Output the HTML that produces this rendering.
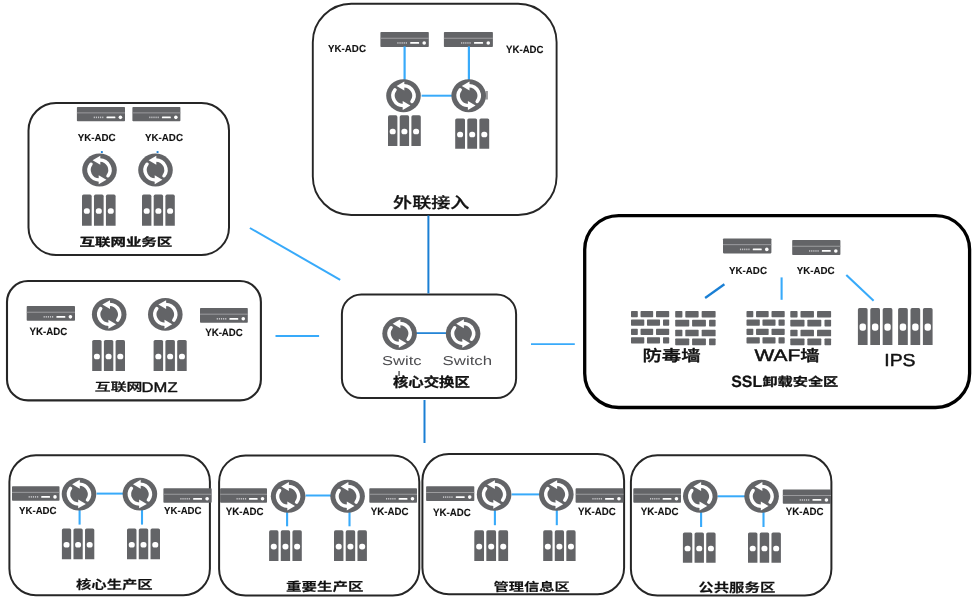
<!DOCTYPE html>
<html lang="zh-CN">
<head>
<meta charset="utf-8">
<title>网络拓扑</title>
<style>
html,body{margin:0;padding:0;background:#fff;}
body{width:973px;height:601px;overflow:hidden;}
svg{display:block;filter:blur(0.38px);}
svg text{font-family:"Liberation Sans","Noto Sans CJK SC",sans-serif;text-rendering:geometricPrecision;}
</style>
</head>
<body>
<svg width="973" height="601" viewBox="0 0 973 601">
<rect width="973" height="601" fill="#fff"/>
<rect x="312.8" y="3.7" width="243.8" height="211.3" rx="38.5" ry="38.5" fill="none" stroke="#262626" stroke-width="1.9"/>
<rect x="28.5" y="102.9" width="200.5" height="152.0" rx="27.5" ry="27.5" fill="none" stroke="#262626" stroke-width="2.0"/>
<rect x="7.0" y="281.0" width="253.9" height="119.4" rx="21" ry="21" fill="none" stroke="#262626" stroke-width="2.1"/>
<rect x="341.9" y="294.4" width="174.2" height="103.7" rx="19.5" ry="19.5" fill="none" stroke="#262626" stroke-width="2.0"/>
<rect x="9.4" y="455.2" width="200.5" height="140.1" rx="26.5" ry="26.5" fill="none" stroke="#262626" stroke-width="2.0"/>
<rect x="219.1" y="455.4" width="200.2" height="140.1" rx="26.5" ry="26.5" fill="none" stroke="#262626" stroke-width="2.0"/>
<rect x="422.4" y="454.0" width="201.7" height="140.3" rx="26.5" ry="26.5" fill="none" stroke="#262626" stroke-width="2.0"/>
<rect x="630.9" y="455.3" width="200.5" height="140.2" rx="26.5" ry="26.5" fill="none" stroke="#262626" stroke-width="2.0"/>
<rect x="584.7" y="215.6" width="384.9" height="191.9" rx="34" ry="34" fill="none" stroke="#000" stroke-width="3.3"/>
<line x1="428.4" y1="215.5" x2="428.4" y2="293.5" stroke="#1a7fd4" stroke-width="2.0"/>
<line x1="424.5" y1="400.0" x2="424.5" y2="443.0" stroke="#1a7fd4" stroke-width="2.0"/>
<line x1="249.9" y1="228.0" x2="340.2" y2="279.8" stroke="#38aafa" stroke-width="2.0"/>
<line x1="275.5" y1="336.0" x2="319.1" y2="336.0" stroke="#38aafa" stroke-width="1.9"/>
<line x1="531.0" y1="344.1" x2="574.8" y2="344.1" stroke="#38aafa" stroke-width="1.9"/>
<line x1="421.6" y1="95.7" x2="452.5" y2="95.7" stroke="#38aafa" stroke-width="2.0"/>
<rect x="380.4" y="32.0" width="48.4" height="15.0" rx="0.8" fill="#636467"/>
<rect x="380.4" y="37.77" width="48.4" height="0.90" fill="#a3a3a6"/>
<rect x="397.34" y="42.15" width="1.2" height="1.6" fill="#c4c4c7"/>
<rect x="399.44" y="42.15" width="1.2" height="1.6" fill="#c4c4c7"/>
<rect x="401.54" y="42.15" width="1.2" height="1.6" fill="#c4c4c7"/>
<rect x="403.64" y="42.15" width="1.2" height="1.6" fill="#c4c4c7"/>
<rect x="405.74" y="42.15" width="1.2" height="1.6" fill="#c4c4c7"/>
<rect x="410.17" y="42.10" width="8.95" height="1.7" rx="0.5" fill="#fff"/>
<circle cx="424.20" cy="42.95" r="1.8" fill="#fff"/>
<rect x="443.9" y="32.0" width="49.0" height="15.0" rx="0.8" fill="#636467"/>
<rect x="443.9" y="37.77" width="49.0" height="0.90" fill="#a3a3a6"/>
<rect x="461.05" y="42.15" width="1.2" height="1.6" fill="#c4c4c7"/>
<rect x="463.15" y="42.15" width="1.2" height="1.6" fill="#c4c4c7"/>
<rect x="465.25" y="42.15" width="1.2" height="1.6" fill="#c4c4c7"/>
<rect x="467.35" y="42.15" width="1.2" height="1.6" fill="#c4c4c7"/>
<rect x="469.45" y="42.15" width="1.2" height="1.6" fill="#c4c4c7"/>
<rect x="474.03" y="42.10" width="9.06" height="1.7" rx="0.5" fill="#fff"/>
<circle cx="488.25" cy="42.95" r="1.8" fill="#fff"/>
<line x1="404.6" y1="46.4" x2="404.6" y2="80.0" stroke="#38aafa" stroke-width="2.2"/>
<line x1="468.9" y1="46.4" x2="468.9" y2="80.0" stroke="#38aafa" stroke-width="2.2"/>
<rect x="485.5" y="91" width="2.4" height="8.5" fill="#9a9a9c"/>
<g transform="translate(403.5 95.7) scale(1.000 0.950)"><circle r="17.3" fill="#636467"/><path d="M0.37 -10.49 A10.5 10.5 0 0 1 8.49 6.17" fill="none" stroke="#fff" stroke-width="3.5" stroke-linecap="round"/><path d="M-6.9 -10.3 L0.8 -15 L0.8 -5.6 Z" fill="#fff"/><path d="M-0.37 10.49 A10.5 10.5 0 0 1 -8.49 -6.17" fill="none" stroke="#fff" stroke-width="3.5" stroke-linecap="round"/><path d="M6.9 10.3 L-0.8 15 L-0.8 5.6 Z" fill="#fff"/></g>
<g transform="translate(468.7 95.7) scale(1.000 0.950)"><circle r="17.3" fill="#636467"/><path d="M0.37 -10.49 A10.5 10.5 0 0 1 8.49 6.17" fill="none" stroke="#fff" stroke-width="3.5" stroke-linecap="round"/><path d="M-6.9 -10.3 L0.8 -15 L0.8 -5.6 Z" fill="#fff"/><path d="M-0.37 10.49 A10.5 10.5 0 0 1 -8.49 -6.17" fill="none" stroke="#fff" stroke-width="3.5" stroke-linecap="round"/><path d="M6.9 10.3 L-0.8 15 L-0.8 5.6 Z" fill="#fff"/></g>
<path d="M388.00 146.0 V116.90 Q388.00 115.3 389.60 115.3 H395.80 Q397.40 115.3 397.40 116.90 V146.0 Z" fill="#636467"/>
<rect x="389.70" y="128.75" width="6.0" height="5.6" rx="2.6" ry="2.6" fill="#fff"/>
<path d="M399.70 146.0 V116.90 Q399.70 115.3 401.30 115.3 H407.50 Q409.10 115.3 409.10 116.90 V146.0 Z" fill="#636467"/>
<rect x="401.40" y="128.75" width="6.0" height="5.6" rx="2.6" ry="2.6" fill="#fff"/>
<path d="M411.40 146.0 V116.90 Q411.40 115.3 413.00 115.3 H419.20 Q420.80 115.3 420.80 116.90 V146.0 Z" fill="#636467"/>
<rect x="413.10" y="128.75" width="6.0" height="5.6" rx="2.6" ry="2.6" fill="#fff"/>
<path d="M455.20 148.8 V120.00 Q455.20 118.4 456.80 118.4 H463.40 Q465.00 118.4 465.00 120.00 V148.8 Z" fill="#636467"/>
<rect x="457.10" y="131.70" width="6.0" height="5.6" rx="2.6" ry="2.6" fill="#fff"/>
<path d="M467.30 148.8 V120.00 Q467.30 118.4 468.90 118.4 H475.50 Q477.10 118.4 477.10 120.00 V148.8 Z" fill="#636467"/>
<rect x="469.20" y="131.70" width="6.0" height="5.6" rx="2.6" ry="2.6" fill="#fff"/>
<path d="M479.40 148.8 V120.00 Q479.40 118.4 481.00 118.4 H487.60 Q489.20 118.4 489.20 120.00 V148.8 Z" fill="#636467"/>
<rect x="481.30" y="131.70" width="6.0" height="5.6" rx="2.6" ry="2.6" fill="#fff"/>
<text transform="translate(328.06 52.00) scale(0.9538 1)" font-size="10.21" font-weight="bold" fill="#111" stroke="#111" stroke-width="0.1" stroke-linejoin="round">YK-ADC</text>
<text transform="translate(506.06 53.00) scale(0.9245 1)" font-size="10.42" font-weight="bold" fill="#111" stroke="#111" stroke-width="0.1" stroke-linejoin="round">YK-ADC</text>
<text transform="translate(393.08 208.00) scale(1.2521 1)" font-size="15.26" font-weight="500" fill="#111" stroke="#111" stroke-width="0.3" stroke-linejoin="round">外联接入</text>
<rect x="76.9" y="107.0" width="48.1" height="14.2" rx="0.8" fill="#636467"/>
<rect x="76.9" y="112.47" width="48.1" height="0.85" fill="#a3a3a6"/>
<rect x="93.73" y="116.57" width="1.2" height="1.6" fill="#c4c4c7"/>
<rect x="95.83" y="116.57" width="1.2" height="1.6" fill="#c4c4c7"/>
<rect x="97.94" y="116.57" width="1.2" height="1.6" fill="#c4c4c7"/>
<rect x="100.03" y="116.57" width="1.2" height="1.6" fill="#c4c4c7"/>
<rect x="102.14" y="116.57" width="1.2" height="1.6" fill="#c4c4c7"/>
<rect x="106.48" y="116.52" width="8.90" height="1.7" rx="0.5" fill="#fff"/>
<circle cx="120.43" cy="117.37" r="1.8" fill="#fff"/>
<rect x="132.4" y="107.0" width="48.0" height="14.2" rx="0.8" fill="#636467"/>
<rect x="132.4" y="112.47" width="48.0" height="0.85" fill="#a3a3a6"/>
<rect x="149.20" y="116.57" width="1.2" height="1.6" fill="#c4c4c7"/>
<rect x="151.30" y="116.57" width="1.2" height="1.6" fill="#c4c4c7"/>
<rect x="153.40" y="116.57" width="1.2" height="1.6" fill="#c4c4c7"/>
<rect x="155.50" y="116.57" width="1.2" height="1.6" fill="#c4c4c7"/>
<rect x="157.60" y="116.57" width="1.2" height="1.6" fill="#c4c4c7"/>
<rect x="161.92" y="116.52" width="8.88" height="1.7" rx="0.5" fill="#fff"/>
<circle cx="175.84" cy="117.37" r="1.8" fill="#fff"/>
<text transform="translate(77.66 141.00) scale(0.9538 1)" font-size="10.21" font-weight="bold" fill="#111" stroke="#111" stroke-width="0.1" stroke-linejoin="round">YK-ADC</text>
<text transform="translate(145.06 141.00) scale(0.9538 1)" font-size="10.21" font-weight="bold" fill="#111" stroke="#111" stroke-width="0.1" stroke-linejoin="round">YK-ADC</text>
<rect x="100.9" y="151.1" width="1.9" height="1.9" fill="#1a7fd4"/>
<rect x="156.6" y="151.1" width="1.9" height="1.9" fill="#1a7fd4"/>
<g transform="translate(99.5 170.0) scale(1.000 0.950)"><circle r="17.3" fill="#636467"/><path d="M0.37 -10.49 A10.5 10.5 0 0 1 8.49 6.17" fill="none" stroke="#fff" stroke-width="3.5" stroke-linecap="round"/><path d="M-6.9 -10.3 L0.8 -15 L0.8 -5.6 Z" fill="#fff"/><path d="M-0.37 10.49 A10.5 10.5 0 0 1 -8.49 -6.17" fill="none" stroke="#fff" stroke-width="3.5" stroke-linecap="round"/><path d="M6.9 10.3 L-0.8 15 L-0.8 5.6 Z" fill="#fff"/></g>
<g transform="translate(155.5 170.0) scale(1.000 0.950)"><circle r="17.3" fill="#636467"/><path d="M0.37 -10.49 A10.5 10.5 0 0 1 8.49 6.17" fill="none" stroke="#fff" stroke-width="3.5" stroke-linecap="round"/><path d="M-6.9 -10.3 L0.8 -15 L0.8 -5.6 Z" fill="#fff"/><path d="M-0.37 10.49 A10.5 10.5 0 0 1 -8.49 -6.17" fill="none" stroke="#fff" stroke-width="3.5" stroke-linecap="round"/><path d="M6.9 10.3 L-0.8 15 L-0.8 5.6 Z" fill="#fff"/></g>
<path d="M82.00 225.7 V196.20 Q82.00 194.6 83.60 194.6 H90.07 Q91.67 194.6 91.67 196.20 V225.7 Z" fill="#636467"/>
<rect x="83.83" y="208.25" width="6.0" height="5.6" rx="2.6" ry="2.6" fill="#fff"/>
<path d="M93.97 225.7 V196.20 Q93.97 194.6 95.57 194.6 H102.03 Q103.63 194.6 103.63 196.20 V225.7 Z" fill="#636467"/>
<rect x="95.80" y="208.25" width="6.0" height="5.6" rx="2.6" ry="2.6" fill="#fff"/>
<path d="M105.93 225.7 V196.20 Q105.93 194.6 107.53 194.6 H114.00 Q115.60 194.6 115.60 196.20 V225.7 Z" fill="#636467"/>
<rect x="107.77" y="208.25" width="6.0" height="5.6" rx="2.6" ry="2.6" fill="#fff"/>
<path d="M142.00 225.7 V196.20 Q142.00 194.6 143.60 194.6 H149.80 Q151.40 194.6 151.40 196.20 V225.7 Z" fill="#636467"/>
<rect x="143.70" y="208.25" width="6.0" height="5.6" rx="2.6" ry="2.6" fill="#fff"/>
<path d="M153.70 225.7 V196.20 Q153.70 194.6 155.30 194.6 H161.50 Q163.10 194.6 163.10 196.20 V225.7 Z" fill="#636467"/>
<rect x="155.40" y="208.25" width="6.0" height="5.6" rx="2.6" ry="2.6" fill="#fff"/>
<path d="M165.40 225.7 V196.20 Q165.40 194.6 167.00 194.6 H173.20 Q174.80 194.6 174.80 196.20 V225.7 Z" fill="#636467"/>
<rect x="167.10" y="208.25" width="6.0" height="5.6" rx="2.6" ry="2.6" fill="#fff"/>
<text transform="translate(79.58 246.00) scale(1.3589 1)" font-size="11.37" font-weight="bold" fill="#111" stroke="#111" stroke-width="0.3" stroke-linejoin="round">互联网业务区</text>
<rect x="26.7" y="306.1" width="48.3" height="14.7" rx="0.8" fill="#636467"/>
<rect x="26.7" y="311.76" width="48.3" height="0.88" fill="#a3a3a6"/>
<rect x="43.60" y="316.03" width="1.2" height="1.6" fill="#c4c4c7"/>
<rect x="45.70" y="316.03" width="1.2" height="1.6" fill="#c4c4c7"/>
<rect x="47.80" y="316.03" width="1.2" height="1.6" fill="#c4c4c7"/>
<rect x="49.91" y="316.03" width="1.2" height="1.6" fill="#c4c4c7"/>
<rect x="52.00" y="316.03" width="1.2" height="1.6" fill="#c4c4c7"/>
<rect x="56.40" y="315.98" width="8.94" height="1.7" rx="0.5" fill="#fff"/>
<circle cx="70.41" cy="316.83" r="1.8" fill="#fff"/>
<rect x="200.0" y="308.0" width="47.8" height="14.8" rx="0.8" fill="#636467"/>
<rect x="200.0" y="313.70" width="47.8" height="0.89" fill="#a3a3a6"/>
<rect x="216.73" y="318.00" width="1.2" height="1.6" fill="#c4c4c7"/>
<rect x="218.83" y="318.00" width="1.2" height="1.6" fill="#c4c4c7"/>
<rect x="220.93" y="318.00" width="1.2" height="1.6" fill="#c4c4c7"/>
<rect x="223.03" y="318.00" width="1.2" height="1.6" fill="#c4c4c7"/>
<rect x="225.13" y="318.00" width="1.2" height="1.6" fill="#c4c4c7"/>
<rect x="229.40" y="317.95" width="8.84" height="1.7" rx="0.5" fill="#fff"/>
<circle cx="243.26" cy="318.80" r="1.8" fill="#fff"/>
<text transform="translate(29.46 335.00) scale(0.9320 1)" font-size="10.42" font-weight="bold" fill="#111" stroke="#111" stroke-width="0.1" stroke-linejoin="round">YK-ADC</text>
<text transform="translate(205.16 336.00) scale(0.9320 1)" font-size="10.42" font-weight="bold" fill="#111" stroke="#111" stroke-width="0.1" stroke-linejoin="round">YK-ADC</text>
<g transform="translate(109.2 314.4) scale(1.000 0.950)"><circle r="17.3" fill="#636467"/><path d="M0.37 -10.49 A10.5 10.5 0 0 1 8.49 6.17" fill="none" stroke="#fff" stroke-width="3.5" stroke-linecap="round"/><path d="M-6.9 -10.3 L0.8 -15 L0.8 -5.6 Z" fill="#fff"/><path d="M-0.37 10.49 A10.5 10.5 0 0 1 -8.49 -6.17" fill="none" stroke="#fff" stroke-width="3.5" stroke-linecap="round"/><path d="M6.9 10.3 L-0.8 15 L-0.8 5.6 Z" fill="#fff"/></g>
<g transform="translate(165.3 314.4) scale(1.000 0.950)"><circle r="17.3" fill="#636467"/><path d="M0.37 -10.49 A10.5 10.5 0 0 1 8.49 6.17" fill="none" stroke="#fff" stroke-width="3.5" stroke-linecap="round"/><path d="M-6.9 -10.3 L0.8 -15 L0.8 -5.6 Z" fill="#fff"/><path d="M-0.37 10.49 A10.5 10.5 0 0 1 -8.49 -6.17" fill="none" stroke="#fff" stroke-width="3.5" stroke-linecap="round"/><path d="M6.9 10.3 L-0.8 15 L-0.8 5.6 Z" fill="#fff"/></g>
<path d="M92.20 371.1 V341.60 Q92.20 340.0 93.80 340.0 H100.00 Q101.60 340.0 101.60 341.60 V371.1 Z" fill="#636467"/>
<rect x="93.90" y="353.65" width="6.0" height="5.6" rx="2.6" ry="2.6" fill="#fff"/>
<path d="M103.90 371.1 V341.60 Q103.90 340.0 105.50 340.0 H111.70 Q113.30 340.0 113.30 341.60 V371.1 Z" fill="#636467"/>
<rect x="105.60" y="353.65" width="6.0" height="5.6" rx="2.6" ry="2.6" fill="#fff"/>
<path d="M115.60 371.1 V341.60 Q115.60 340.0 117.20 340.0 H123.40 Q125.00 340.0 125.00 341.60 V371.1 Z" fill="#636467"/>
<rect x="117.30" y="353.65" width="6.0" height="5.6" rx="2.6" ry="2.6" fill="#fff"/>
<path d="M153.60 371.1 V341.60 Q153.60 340.0 155.20 340.0 H161.50 Q163.10 340.0 163.10 341.60 V371.1 Z" fill="#636467"/>
<rect x="155.35" y="353.65" width="6.0" height="5.6" rx="2.6" ry="2.6" fill="#fff"/>
<path d="M165.40 371.1 V341.60 Q165.40 340.0 167.00 340.0 H173.30 Q174.90 340.0 174.90 341.60 V371.1 Z" fill="#636467"/>
<rect x="167.15" y="353.65" width="6.0" height="5.6" rx="2.6" ry="2.6" fill="#fff"/>
<path d="M177.20 371.1 V341.60 Q177.20 340.0 178.80 340.0 H185.10 Q186.70 340.0 186.70 341.60 V371.1 Z" fill="#636467"/>
<rect x="178.95" y="353.65" width="6.0" height="5.6" rx="2.6" ry="2.6" fill="#fff"/>
<g><text transform="translate(94.86 391.00) scale(1.3779 1)" font-size="11.51" font-weight="500" fill="#111" stroke="#111" stroke-width="0.3" stroke-linejoin="round">互联网</text><text transform="translate(141.62 392.00) scale(1.1798 1)" font-size="14.06" font-weight="400" fill="#111" stroke="#111" stroke-width="0.4" stroke-linejoin="round">DMZ</text></g>
<line x1="416.0" y1="333.1" x2="447.0" y2="333.1" stroke="#1a7fd4" stroke-width="1.7"/>
<g transform="translate(399.6 333.5) scale(1.000 0.950)"><circle r="17.3" fill="#636467"/><path d="M0.37 -10.49 A10.5 10.5 0 0 1 8.49 6.17" fill="none" stroke="#fff" stroke-width="3.5" stroke-linecap="round"/><path d="M-6.9 -10.3 L0.8 -15 L0.8 -5.6 Z" fill="#fff"/><path d="M-0.37 10.49 A10.5 10.5 0 0 1 -8.49 -6.17" fill="none" stroke="#fff" stroke-width="3.5" stroke-linecap="round"/><path d="M6.9 10.3 L-0.8 15 L-0.8 5.6 Z" fill="#fff"/></g>
<g transform="translate(463.1 333.5) scale(1.000 0.950)"><circle r="17.3" fill="#636467"/><path d="M0.37 -10.49 A10.5 10.5 0 0 1 8.49 6.17" fill="none" stroke="#fff" stroke-width="3.5" stroke-linecap="round"/><path d="M-6.9 -10.3 L0.8 -15 L0.8 -5.6 Z" fill="#fff"/><path d="M-0.37 10.49 A10.5 10.5 0 0 1 -8.49 -6.17" fill="none" stroke="#fff" stroke-width="3.5" stroke-linecap="round"/><path d="M6.9 10.3 L-0.8 15 L-0.8 5.6 Z" fill="#fff"/></g>
<text transform="translate(382.02 365.00) scale(1.2881 1)" font-size="12.84" font-weight="400" fill="#4d4d50">Switc</text>
<text transform="translate(442.61 365.00) scale(1.3074 1)" font-size="12.84" font-weight="400" fill="#4d4d50">Switch</text>
<text transform="translate(392.94 387.00) scale(1.1330 1)" font-size="13.58" font-weight="bold" fill="#111" stroke="#111" stroke-width="0.3" stroke-linejoin="round">核心交换区</text>
<rect x="398.5" y="371" width="1.1" height="5" fill="#222"/>
<line x1="96.6" y1="493.6" x2="124.5" y2="493.6" stroke="#38aafa" stroke-width="2.0"/>
<line x1="79.6" y1="509.0" x2="79.6" y2="524.6" stroke="#38aafa" stroke-width="2.1"/>
<line x1="142.0" y1="509.0" x2="142.0" y2="524.6" stroke="#38aafa" stroke-width="2.1"/>
<rect x="12.0" y="486.3" width="47.5" height="14.5" rx="0.8" fill="#636467"/>
<rect x="12.0" y="491.88" width="47.5" height="0.87" fill="#a3a3a6"/>
<rect x="28.62" y="496.08" width="1.2" height="1.6" fill="#c4c4c7"/>
<rect x="30.73" y="496.08" width="1.2" height="1.6" fill="#c4c4c7"/>
<rect x="32.83" y="496.08" width="1.2" height="1.6" fill="#c4c4c7"/>
<rect x="34.92" y="496.08" width="1.2" height="1.6" fill="#c4c4c7"/>
<rect x="37.02" y="496.08" width="1.2" height="1.6" fill="#c4c4c7"/>
<rect x="41.21" y="496.03" width="8.79" height="1.7" rx="0.5" fill="#fff"/>
<circle cx="54.99" cy="496.88" r="1.8" fill="#fff"/>
<rect x="163.4" y="488.2" width="48.3" height="14.5" rx="0.8" fill="#636467"/>
<rect x="163.4" y="493.78" width="48.3" height="0.87" fill="#a3a3a6"/>
<rect x="180.31" y="497.98" width="1.2" height="1.6" fill="#c4c4c7"/>
<rect x="182.41" y="497.98" width="1.2" height="1.6" fill="#c4c4c7"/>
<rect x="184.50" y="497.98" width="1.2" height="1.6" fill="#c4c4c7"/>
<rect x="186.61" y="497.98" width="1.2" height="1.6" fill="#c4c4c7"/>
<rect x="188.71" y="497.98" width="1.2" height="1.6" fill="#c4c4c7"/>
<rect x="193.10" y="497.93" width="8.94" height="1.7" rx="0.5" fill="#fff"/>
<circle cx="207.11" cy="498.78" r="1.8" fill="#fff"/>
<g transform="translate(79.0 494.1) scale(1.000 0.950)"><circle r="17.3" fill="#636467"/><path d="M0.37 -10.49 A10.5 10.5 0 0 1 8.49 6.17" fill="none" stroke="#fff" stroke-width="3.5" stroke-linecap="round"/><path d="M-6.9 -10.3 L0.8 -15 L0.8 -5.6 Z" fill="#fff"/><path d="M-0.37 10.49 A10.5 10.5 0 0 1 -8.49 -6.17" fill="none" stroke="#fff" stroke-width="3.5" stroke-linecap="round"/><path d="M6.9 10.3 L-0.8 15 L-0.8 5.6 Z" fill="#fff"/></g>
<g transform="translate(139.9 494.1) scale(1.000 0.950)"><circle r="17.3" fill="#636467"/><path d="M0.37 -10.49 A10.5 10.5 0 0 1 8.49 6.17" fill="none" stroke="#fff" stroke-width="3.5" stroke-linecap="round"/><path d="M-6.9 -10.3 L0.8 -15 L0.8 -5.6 Z" fill="#fff"/><path d="M-0.37 10.49 A10.5 10.5 0 0 1 -8.49 -6.17" fill="none" stroke="#fff" stroke-width="3.5" stroke-linecap="round"/><path d="M6.9 10.3 L-0.8 15 L-0.8 5.6 Z" fill="#fff"/></g>
<path d="M61.90 559.2 V530.00 Q61.90 528.4 63.50 528.4 H69.57 Q71.17 528.4 71.17 530.00 V559.2 Z" fill="#636467"/>
<rect x="63.53" y="541.90" width="6.0" height="5.6" rx="2.6" ry="2.6" fill="#fff"/>
<path d="M73.47 559.2 V530.00 Q73.47 528.4 75.07 528.4 H81.13 Q82.73 528.4 82.73 530.00 V559.2 Z" fill="#636467"/>
<rect x="75.10" y="541.90" width="6.0" height="5.6" rx="2.6" ry="2.6" fill="#fff"/>
<path d="M85.03 559.2 V530.00 Q85.03 528.4 86.63 528.4 H92.70 Q94.30 528.4 94.30 530.00 V559.2 Z" fill="#636467"/>
<rect x="86.67" y="541.90" width="6.0" height="5.6" rx="2.6" ry="2.6" fill="#fff"/>
<path d="M127.00 559.2 V530.00 Q127.00 528.4 128.60 528.4 H134.87 Q136.47 528.4 136.47 530.00 V559.2 Z" fill="#636467"/>
<rect x="128.73" y="541.90" width="6.0" height="5.6" rx="2.6" ry="2.6" fill="#fff"/>
<path d="M138.77 559.2 V530.00 Q138.77 528.4 140.37 528.4 H146.63 Q148.23 528.4 148.23 530.00 V559.2 Z" fill="#636467"/>
<rect x="140.50" y="541.90" width="6.0" height="5.6" rx="2.6" ry="2.6" fill="#fff"/>
<path d="M150.53 559.2 V530.00 Q150.53 528.4 152.13 528.4 H158.40 Q160.00 528.4 160.00 530.00 V559.2 Z" fill="#636467"/>
<rect x="152.27" y="541.90" width="6.0" height="5.6" rx="2.6" ry="2.6" fill="#fff"/>
<text transform="translate(19.06 514.00) scale(0.9436 1)" font-size="10.21" font-weight="bold" fill="#111" stroke="#111" stroke-width="0.1" stroke-linejoin="round">YK-ADC</text>
<text transform="translate(164.06 514.00) scale(0.9436 1)" font-size="10.21" font-weight="bold" fill="#111" stroke="#111" stroke-width="0.1" stroke-linejoin="round">YK-ADC</text>
<text transform="translate(75.94 589.00) scale(1.2395 1)" font-size="12.40" font-weight="bold" fill="#111" stroke="#111" stroke-width="0.12" stroke-linejoin="round">核心生产区</text>
<line x1="305.6" y1="495.5" x2="332.0" y2="495.5" stroke="#38aafa" stroke-width="2.0"/>
<line x1="287.1" y1="511.0" x2="287.1" y2="526.3" stroke="#38aafa" stroke-width="2.1"/>
<line x1="349.5" y1="511.0" x2="349.5" y2="526.3" stroke="#38aafa" stroke-width="2.1"/>
<rect x="220.1" y="488.2" width="46.9" height="14.5" rx="0.8" fill="#636467"/>
<rect x="220.1" y="493.78" width="46.9" height="0.87" fill="#a3a3a6"/>
<rect x="236.51" y="497.98" width="1.2" height="1.6" fill="#c4c4c7"/>
<rect x="238.61" y="497.98" width="1.2" height="1.6" fill="#c4c4c7"/>
<rect x="240.71" y="497.98" width="1.2" height="1.6" fill="#c4c4c7"/>
<rect x="242.81" y="497.98" width="1.2" height="1.6" fill="#c4c4c7"/>
<rect x="244.91" y="497.98" width="1.2" height="1.6" fill="#c4c4c7"/>
<rect x="248.94" y="497.93" width="8.68" height="1.7" rx="0.5" fill="#fff"/>
<circle cx="262.54" cy="498.78" r="1.8" fill="#fff"/>
<rect x="369.3" y="488.2" width="47.7" height="14.5" rx="0.8" fill="#636467"/>
<rect x="369.3" y="493.78" width="47.7" height="0.87" fill="#a3a3a6"/>
<rect x="386.00" y="497.98" width="1.2" height="1.6" fill="#c4c4c7"/>
<rect x="388.10" y="497.98" width="1.2" height="1.6" fill="#c4c4c7"/>
<rect x="390.19" y="497.98" width="1.2" height="1.6" fill="#c4c4c7"/>
<rect x="392.30" y="497.98" width="1.2" height="1.6" fill="#c4c4c7"/>
<rect x="394.39" y="497.98" width="1.2" height="1.6" fill="#c4c4c7"/>
<rect x="398.64" y="497.93" width="8.82" height="1.7" rx="0.5" fill="#fff"/>
<circle cx="412.47" cy="498.78" r="1.8" fill="#fff"/>
<g transform="translate(288.1 496.3) scale(1.000 0.950)"><circle r="17.3" fill="#636467"/><path d="M0.37 -10.49 A10.5 10.5 0 0 1 8.49 6.17" fill="none" stroke="#fff" stroke-width="3.5" stroke-linecap="round"/><path d="M-6.9 -10.3 L0.8 -15 L0.8 -5.6 Z" fill="#fff"/><path d="M-0.37 10.49 A10.5 10.5 0 0 1 -8.49 -6.17" fill="none" stroke="#fff" stroke-width="3.5" stroke-linecap="round"/><path d="M6.9 10.3 L-0.8 15 L-0.8 5.6 Z" fill="#fff"/></g>
<g transform="translate(347.6 496.3) scale(1.000 0.950)"><circle r="17.3" fill="#636467"/><path d="M0.37 -10.49 A10.5 10.5 0 0 1 8.49 6.17" fill="none" stroke="#fff" stroke-width="3.5" stroke-linecap="round"/><path d="M-6.9 -10.3 L0.8 -15 L0.8 -5.6 Z" fill="#fff"/><path d="M-0.37 10.49 A10.5 10.5 0 0 1 -8.49 -6.17" fill="none" stroke="#fff" stroke-width="3.5" stroke-linecap="round"/><path d="M6.9 10.3 L-0.8 15 L-0.8 5.6 Z" fill="#fff"/></g>
<path d="M269.10 561.1 V531.90 Q269.10 530.3 270.70 530.3 H276.87 Q278.47 530.3 278.47 531.90 V561.1 Z" fill="#636467"/>
<rect x="270.78" y="543.80" width="6.0" height="5.6" rx="2.6" ry="2.6" fill="#fff"/>
<path d="M280.77 561.1 V531.90 Q280.77 530.3 282.37 530.3 H288.53 Q290.13 530.3 290.13 531.90 V561.1 Z" fill="#636467"/>
<rect x="282.45" y="543.80" width="6.0" height="5.6" rx="2.6" ry="2.6" fill="#fff"/>
<path d="M292.43 561.1 V531.90 Q292.43 530.3 294.03 530.3 H300.20 Q301.80 530.3 301.80 531.90 V561.1 Z" fill="#636467"/>
<rect x="294.12" y="543.80" width="6.0" height="5.6" rx="2.6" ry="2.6" fill="#fff"/>
<path d="M334.00 561.1 V531.90 Q334.00 530.3 335.60 530.3 H341.83 Q343.43 530.3 343.43 531.90 V561.1 Z" fill="#636467"/>
<rect x="335.72" y="543.80" width="6.0" height="5.6" rx="2.6" ry="2.6" fill="#fff"/>
<path d="M345.73 561.1 V531.90 Q345.73 530.3 347.33 530.3 H353.57 Q355.17 530.3 355.17 531.90 V561.1 Z" fill="#636467"/>
<rect x="347.45" y="543.80" width="6.0" height="5.6" rx="2.6" ry="2.6" fill="#fff"/>
<path d="M357.47 561.1 V531.90 Q357.47 530.3 359.07 530.3 H365.30 Q366.90 530.3 366.90 531.90 V561.1 Z" fill="#636467"/>
<rect x="359.18" y="543.80" width="6.0" height="5.6" rx="2.6" ry="2.6" fill="#fff"/>
<text transform="translate(225.66 515.00) scale(0.9345 1)" font-size="10.42" font-weight="bold" fill="#111" stroke="#111" stroke-width="0.1" stroke-linejoin="round">YK-ADC</text>
<text transform="translate(370.66 515.00) scale(0.9345 1)" font-size="10.42" font-weight="bold" fill="#111" stroke="#111" stroke-width="0.1" stroke-linejoin="round">YK-ADC</text>
<text transform="translate(286.08 591.00) scale(1.2593 1)" font-size="12.29" font-weight="bold" fill="#111" stroke="#111" stroke-width="0.12" stroke-linejoin="round">重要生产区</text>
<line x1="511.6" y1="494.4" x2="540.0" y2="494.4" stroke="#38aafa" stroke-width="2.0"/>
<line x1="494.9" y1="509.0" x2="494.9" y2="525.2" stroke="#38aafa" stroke-width="2.1"/>
<line x1="556.8" y1="509.0" x2="556.8" y2="525.2" stroke="#38aafa" stroke-width="2.1"/>
<rect x="426.1" y="486.3" width="48.2" height="14.8" rx="0.8" fill="#636467"/>
<rect x="426.1" y="492.00" width="48.2" height="0.89" fill="#a3a3a6"/>
<rect x="442.97" y="496.30" width="1.2" height="1.6" fill="#c4c4c7"/>
<rect x="445.07" y="496.30" width="1.2" height="1.6" fill="#c4c4c7"/>
<rect x="447.17" y="496.30" width="1.2" height="1.6" fill="#c4c4c7"/>
<rect x="449.27" y="496.30" width="1.2" height="1.6" fill="#c4c4c7"/>
<rect x="451.37" y="496.30" width="1.2" height="1.6" fill="#c4c4c7"/>
<rect x="455.74" y="496.25" width="8.92" height="1.7" rx="0.5" fill="#fff"/>
<circle cx="469.72" cy="497.10" r="1.8" fill="#fff"/>
<rect x="575.6" y="488.2" width="47.9" height="14.5" rx="0.8" fill="#636467"/>
<rect x="575.6" y="493.78" width="47.9" height="0.87" fill="#a3a3a6"/>
<rect x="592.37" y="497.98" width="1.2" height="1.6" fill="#c4c4c7"/>
<rect x="594.47" y="497.98" width="1.2" height="1.6" fill="#c4c4c7"/>
<rect x="596.57" y="497.98" width="1.2" height="1.6" fill="#c4c4c7"/>
<rect x="598.66" y="497.98" width="1.2" height="1.6" fill="#c4c4c7"/>
<rect x="600.76" y="497.98" width="1.2" height="1.6" fill="#c4c4c7"/>
<rect x="605.06" y="497.93" width="8.86" height="1.7" rx="0.5" fill="#fff"/>
<circle cx="618.95" cy="498.78" r="1.8" fill="#fff"/>
<g transform="translate(494.1 494.4) scale(1.000 0.950)"><circle r="17.3" fill="#636467"/><path d="M0.37 -10.49 A10.5 10.5 0 0 1 8.49 6.17" fill="none" stroke="#fff" stroke-width="3.5" stroke-linecap="round"/><path d="M-6.9 -10.3 L0.8 -15 L0.8 -5.6 Z" fill="#fff"/><path d="M-0.37 10.49 A10.5 10.5 0 0 1 -8.49 -6.17" fill="none" stroke="#fff" stroke-width="3.5" stroke-linecap="round"/><path d="M6.9 10.3 L-0.8 15 L-0.8 5.6 Z" fill="#fff"/></g>
<g transform="translate(556.3 494.4) scale(1.000 0.950)"><circle r="17.3" fill="#636467"/><path d="M0.37 -10.49 A10.5 10.5 0 0 1 8.49 6.17" fill="none" stroke="#fff" stroke-width="3.5" stroke-linecap="round"/><path d="M-6.9 -10.3 L0.8 -15 L0.8 -5.6 Z" fill="#fff"/><path d="M-0.37 10.49 A10.5 10.5 0 0 1 -8.49 -6.17" fill="none" stroke="#fff" stroke-width="3.5" stroke-linecap="round"/><path d="M6.9 10.3 L-0.8 15 L-0.8 5.6 Z" fill="#fff"/></g>
<path d="M474.30 561.1 V531.90 Q474.30 530.3 475.90 530.3 H482.43 Q484.03 530.3 484.03 531.90 V561.1 Z" fill="#636467"/>
<rect x="476.17" y="543.80" width="6.0" height="5.6" rx="2.6" ry="2.6" fill="#fff"/>
<path d="M486.33 561.1 V531.90 Q486.33 530.3 487.93 530.3 H494.47 Q496.07 530.3 496.07 531.90 V561.1 Z" fill="#636467"/>
<rect x="488.20" y="543.80" width="6.0" height="5.6" rx="2.6" ry="2.6" fill="#fff"/>
<path d="M498.37 561.1 V531.90 Q498.37 530.3 499.97 530.3 H506.50 Q508.10 530.3 508.10 531.90 V561.1 Z" fill="#636467"/>
<rect x="500.23" y="543.80" width="6.0" height="5.6" rx="2.6" ry="2.6" fill="#fff"/>
<path d="M543.20 561.1 V531.90 Q543.20 530.3 544.80 530.3 H550.87 Q552.47 530.3 552.47 531.90 V561.1 Z" fill="#636467"/>
<rect x="544.83" y="543.80" width="6.0" height="5.6" rx="2.6" ry="2.6" fill="#fff"/>
<path d="M554.77 561.1 V531.90 Q554.77 530.3 556.37 530.3 H562.43 Q564.03 530.3 564.03 531.90 V561.1 Z" fill="#636467"/>
<rect x="556.40" y="543.80" width="6.0" height="5.6" rx="2.6" ry="2.6" fill="#fff"/>
<path d="M566.33 561.1 V531.90 Q566.33 530.3 567.93 530.3 H574.00 Q575.60 530.3 575.60 531.90 V561.1 Z" fill="#636467"/>
<rect x="567.97" y="543.80" width="6.0" height="5.6" rx="2.6" ry="2.6" fill="#fff"/>
<text transform="translate(433.06 516.00) scale(0.9345 1)" font-size="10.42" font-weight="bold" fill="#111" stroke="#111" stroke-width="0.1" stroke-linejoin="round">YK-ADC</text>
<text transform="translate(578.06 515.00) scale(0.9345 1)" font-size="10.42" font-weight="bold" fill="#111" stroke="#111" stroke-width="0.1" stroke-linejoin="round">YK-ADC</text>
<text transform="translate(493.39 591.00) scale(1.2862 1)" font-size="11.87" font-weight="bold" fill="#111" stroke="#111" stroke-width="0.12" stroke-linejoin="round">管理信息区</text>
<line x1="717.6" y1="496.3" x2="746.0" y2="496.3" stroke="#38aafa" stroke-width="2.0"/>
<line x1="701.1" y1="511.0" x2="701.1" y2="527.0" stroke="#38aafa" stroke-width="2.1"/>
<line x1="763.5" y1="511.0" x2="763.5" y2="527.0" stroke="#38aafa" stroke-width="2.1"/>
<rect x="633.3" y="488.2" width="47.7" height="14.5" rx="0.8" fill="#636467"/>
<rect x="633.3" y="493.78" width="47.7" height="0.87" fill="#a3a3a6"/>
<rect x="650.00" y="497.98" width="1.2" height="1.6" fill="#c4c4c7"/>
<rect x="652.10" y="497.98" width="1.2" height="1.6" fill="#c4c4c7"/>
<rect x="654.20" y="497.98" width="1.2" height="1.6" fill="#c4c4c7"/>
<rect x="656.29" y="497.98" width="1.2" height="1.6" fill="#c4c4c7"/>
<rect x="658.39" y="497.98" width="1.2" height="1.6" fill="#c4c4c7"/>
<rect x="662.64" y="497.93" width="8.82" height="1.7" rx="0.5" fill="#fff"/>
<circle cx="676.47" cy="498.78" r="1.8" fill="#fff"/>
<rect x="782.8" y="489.6" width="48.2" height="14.2" rx="0.8" fill="#636467"/>
<rect x="782.8" y="495.07" width="48.2" height="0.85" fill="#a3a3a6"/>
<rect x="799.67" y="499.17" width="1.2" height="1.6" fill="#c4c4c7"/>
<rect x="801.77" y="499.17" width="1.2" height="1.6" fill="#c4c4c7"/>
<rect x="803.87" y="499.17" width="1.2" height="1.6" fill="#c4c4c7"/>
<rect x="805.97" y="499.17" width="1.2" height="1.6" fill="#c4c4c7"/>
<rect x="808.07" y="499.17" width="1.2" height="1.6" fill="#c4c4c7"/>
<rect x="812.44" y="499.12" width="8.92" height="1.7" rx="0.5" fill="#fff"/>
<circle cx="826.42" cy="499.97" r="1.8" fill="#fff"/>
<g transform="translate(700.3 496.3) scale(1.000 0.950)"><circle r="17.3" fill="#636467"/><path d="M0.37 -10.49 A10.5 10.5 0 0 1 8.49 6.17" fill="none" stroke="#fff" stroke-width="3.5" stroke-linecap="round"/><path d="M-6.9 -10.3 L0.8 -15 L0.8 -5.6 Z" fill="#fff"/><path d="M-0.37 10.49 A10.5 10.5 0 0 1 -8.49 -6.17" fill="none" stroke="#fff" stroke-width="3.5" stroke-linecap="round"/><path d="M6.9 10.3 L-0.8 15 L-0.8 5.6 Z" fill="#fff"/></g>
<g transform="translate(761.6 496.3) scale(1.000 0.950)"><circle r="17.3" fill="#636467"/><path d="M0.37 -10.49 A10.5 10.5 0 0 1 8.49 6.17" fill="none" stroke="#fff" stroke-width="3.5" stroke-linecap="round"/><path d="M-6.9 -10.3 L0.8 -15 L0.8 -5.6 Z" fill="#fff"/><path d="M-0.37 10.49 A10.5 10.5 0 0 1 -8.49 -6.17" fill="none" stroke="#fff" stroke-width="3.5" stroke-linecap="round"/><path d="M6.9 10.3 L-0.8 15 L-0.8 5.6 Z" fill="#fff"/></g>
<path d="M682.90 562.7 V534.00 Q682.90 532.4 684.50 532.4 H690.67 Q692.27 532.4 692.27 534.00 V562.7 Z" fill="#636467"/>
<rect x="684.58" y="545.65" width="6.0" height="5.6" rx="2.6" ry="2.6" fill="#fff"/>
<path d="M694.57 562.7 V534.00 Q694.57 532.4 696.17 532.4 H702.33 Q703.93 532.4 703.93 534.00 V562.7 Z" fill="#636467"/>
<rect x="696.25" y="545.65" width="6.0" height="5.6" rx="2.6" ry="2.6" fill="#fff"/>
<path d="M706.23 562.7 V534.00 Q706.23 532.4 707.83 532.4 H714.00 Q715.60 532.4 715.60 534.00 V562.7 Z" fill="#636467"/>
<rect x="707.92" y="545.65" width="6.0" height="5.6" rx="2.6" ry="2.6" fill="#fff"/>
<path d="M748.00 562.7 V534.00 Q748.00 532.4 749.60 532.4 H755.83 Q757.43 532.4 757.43 534.00 V562.7 Z" fill="#636467"/>
<rect x="749.72" y="545.65" width="6.0" height="5.6" rx="2.6" ry="2.6" fill="#fff"/>
<path d="M759.73 562.7 V534.00 Q759.73 532.4 761.33 532.4 H767.57 Q769.17 532.4 769.17 534.00 V562.7 Z" fill="#636467"/>
<rect x="761.45" y="545.65" width="6.0" height="5.6" rx="2.6" ry="2.6" fill="#fff"/>
<path d="M771.47 562.7 V534.00 Q771.47 532.4 773.07 532.4 H779.30 Q780.90 532.4 780.90 534.00 V562.7 Z" fill="#636467"/>
<rect x="773.18" y="545.65" width="6.0" height="5.6" rx="2.6" ry="2.6" fill="#fff"/>
<text transform="translate(640.66 515.00) scale(0.9345 1)" font-size="10.42" font-weight="bold" fill="#111" stroke="#111" stroke-width="0.1" stroke-linejoin="round">YK-ADC</text>
<text transform="translate(785.66 515.00) scale(0.9345 1)" font-size="10.42" font-weight="bold" fill="#111" stroke="#111" stroke-width="0.1" stroke-linejoin="round">YK-ADC</text>
<text transform="translate(698.23 592.00) scale(1.2289 1)" font-size="12.55" font-weight="bold" fill="#111" stroke="#111" stroke-width="0.12" stroke-linejoin="round">公共服务区</text>
<rect x="723.0" y="238.5" width="48.4" height="14.9" rx="0.8" fill="#636467"/>
<rect x="723.0" y="244.24" width="48.4" height="0.89" fill="#a3a3a6"/>
<rect x="739.94" y="248.58" width="1.2" height="1.6" fill="#c4c4c7"/>
<rect x="742.04" y="248.58" width="1.2" height="1.6" fill="#c4c4c7"/>
<rect x="744.14" y="248.58" width="1.2" height="1.6" fill="#c4c4c7"/>
<rect x="746.24" y="248.58" width="1.2" height="1.6" fill="#c4c4c7"/>
<rect x="748.34" y="248.58" width="1.2" height="1.6" fill="#c4c4c7"/>
<rect x="752.77" y="248.53" width="8.95" height="1.7" rx="0.5" fill="#fff"/>
<circle cx="766.80" cy="249.38" r="1.8" fill="#fff"/>
<rect x="792.2" y="240.0" width="48.2" height="15.0" rx="0.8" fill="#636467"/>
<rect x="792.2" y="245.78" width="48.2" height="0.90" fill="#a3a3a6"/>
<rect x="809.07" y="250.15" width="1.2" height="1.6" fill="#c4c4c7"/>
<rect x="811.17" y="250.15" width="1.2" height="1.6" fill="#c4c4c7"/>
<rect x="813.27" y="250.15" width="1.2" height="1.6" fill="#c4c4c7"/>
<rect x="815.37" y="250.15" width="1.2" height="1.6" fill="#c4c4c7"/>
<rect x="817.47" y="250.15" width="1.2" height="1.6" fill="#c4c4c7"/>
<rect x="821.84" y="250.10" width="8.92" height="1.7" rx="0.5" fill="#fff"/>
<circle cx="835.82" cy="250.95" r="1.8" fill="#fff"/>
<text transform="translate(729.06 274.00) scale(0.9538 1)" font-size="10.21" font-weight="bold" fill="#111" stroke="#111" stroke-width="0.1" stroke-linejoin="round">YK-ADC</text>
<text transform="translate(796.66 274.00) scale(0.9538 1)" font-size="10.21" font-weight="bold" fill="#111" stroke="#111" stroke-width="0.1" stroke-linejoin="round">YK-ADC</text>
<line x1="724.4" y1="284.2" x2="705.1" y2="298.0" stroke="#1a7fd4" stroke-width="2.3"/>
<line x1="781.6" y1="277.4" x2="781.6" y2="299.8" stroke="#38aafa" stroke-width="2.1"/>
<line x1="846.3" y1="275.1" x2="873.6" y2="300.8" stroke="#38aafa" stroke-width="2.1"/>
<rect x="631.00" y="311.00" width="6.80" height="6.23" rx="0.7" fill="#636467"/>
<rect x="640.55" y="311.00" width="12.61" height="6.23" rx="0.7" fill="#636467"/>
<rect x="656.02" y="311.00" width="13.18" height="6.23" rx="0.7" fill="#636467"/>
<rect x="631.00" y="319.40" width="13.29" height="6.23" rx="0.7" fill="#636467"/>
<rect x="646.97" y="319.40" width="13.06" height="6.23" rx="0.7" fill="#636467"/>
<rect x="663.01" y="319.40" width="6.19" height="6.23" rx="0.7" fill="#636467"/>
<rect x="631.00" y="328.83" width="6.80" height="6.23" rx="0.7" fill="#636467"/>
<rect x="640.55" y="328.83" width="12.61" height="6.23" rx="0.7" fill="#636467"/>
<rect x="656.02" y="328.83" width="13.18" height="6.23" rx="0.7" fill="#636467"/>
<rect x="631.00" y="337.23" width="13.29" height="6.23" rx="0.7" fill="#636467"/>
<rect x="646.97" y="337.23" width="13.06" height="6.23" rx="0.7" fill="#636467"/>
<rect x="663.01" y="337.23" width="6.19" height="6.23" rx="0.7" fill="#636467"/>
<rect x="675.20" y="311.00" width="7.19" height="6.56" rx="0.7" fill="#636467"/>
<rect x="685.30" y="311.00" width="13.33" height="6.56" rx="0.7" fill="#636467"/>
<rect x="701.66" y="311.00" width="13.94" height="6.56" rx="0.7" fill="#636467"/>
<rect x="675.20" y="319.84" width="14.06" height="6.56" rx="0.7" fill="#636467"/>
<rect x="692.09" y="319.84" width="13.82" height="6.56" rx="0.7" fill="#636467"/>
<rect x="709.06" y="319.84" width="6.54" height="6.56" rx="0.7" fill="#636467"/>
<rect x="675.20" y="329.77" width="7.19" height="6.56" rx="0.7" fill="#636467"/>
<rect x="685.30" y="329.77" width="13.33" height="6.56" rx="0.7" fill="#636467"/>
<rect x="701.66" y="329.77" width="13.94" height="6.56" rx="0.7" fill="#636467"/>
<rect x="675.20" y="338.61" width="14.06" height="6.56" rx="0.7" fill="#636467"/>
<rect x="692.09" y="338.61" width="13.82" height="6.56" rx="0.7" fill="#636467"/>
<rect x="709.06" y="338.61" width="6.54" height="6.56" rx="0.7" fill="#636467"/>
<rect x="746.50" y="311.00" width="6.80" height="6.23" rx="0.7" fill="#636467"/>
<rect x="756.05" y="311.00" width="12.61" height="6.23" rx="0.7" fill="#636467"/>
<rect x="771.52" y="311.00" width="13.18" height="6.23" rx="0.7" fill="#636467"/>
<rect x="746.50" y="319.40" width="13.29" height="6.23" rx="0.7" fill="#636467"/>
<rect x="762.47" y="319.40" width="13.06" height="6.23" rx="0.7" fill="#636467"/>
<rect x="778.51" y="319.40" width="6.19" height="6.23" rx="0.7" fill="#636467"/>
<rect x="746.50" y="328.83" width="6.80" height="6.23" rx="0.7" fill="#636467"/>
<rect x="756.05" y="328.83" width="12.61" height="6.23" rx="0.7" fill="#636467"/>
<rect x="771.52" y="328.83" width="13.18" height="6.23" rx="0.7" fill="#636467"/>
<rect x="746.50" y="337.23" width="13.29" height="6.23" rx="0.7" fill="#636467"/>
<rect x="762.47" y="337.23" width="13.06" height="6.23" rx="0.7" fill="#636467"/>
<rect x="778.51" y="337.23" width="6.19" height="6.23" rx="0.7" fill="#636467"/>
<rect x="790.30" y="311.00" width="7.26" height="6.56" rx="0.7" fill="#636467"/>
<rect x="800.50" y="311.00" width="13.46" height="6.56" rx="0.7" fill="#636467"/>
<rect x="817.02" y="311.00" width="14.08" height="6.56" rx="0.7" fill="#636467"/>
<rect x="790.30" y="319.84" width="14.20" height="6.56" rx="0.7" fill="#636467"/>
<rect x="807.35" y="319.84" width="13.95" height="6.56" rx="0.7" fill="#636467"/>
<rect x="824.49" y="319.84" width="6.61" height="6.56" rx="0.7" fill="#636467"/>
<rect x="790.30" y="329.77" width="7.26" height="6.56" rx="0.7" fill="#636467"/>
<rect x="800.50" y="329.77" width="13.46" height="6.56" rx="0.7" fill="#636467"/>
<rect x="817.02" y="329.77" width="14.08" height="6.56" rx="0.7" fill="#636467"/>
<rect x="790.30" y="338.61" width="14.20" height="6.56" rx="0.7" fill="#636467"/>
<rect x="807.35" y="338.61" width="13.95" height="6.56" rx="0.7" fill="#636467"/>
<rect x="824.49" y="338.61" width="6.61" height="6.56" rx="0.7" fill="#636467"/>
<path d="M857.90 345.0 V309.70 Q857.90 308.1 859.50 308.1 H866.00 Q867.60 308.1 867.60 309.70 V345.0 Z" fill="#636467"/>
<rect x="859.55" y="323.45" width="6.4" height="7.2" rx="2.6" ry="2.6" fill="#fff"/>
<path d="M870.30 345.0 V309.70 Q870.30 308.1 871.90 308.1 H878.40 Q880.00 308.1 880.00 309.70 V345.0 Z" fill="#636467"/>
<rect x="871.95" y="323.45" width="6.4" height="7.2" rx="2.6" ry="2.6" fill="#fff"/>
<path d="M882.70 345.0 V309.70 Q882.70 308.1 884.30 308.1 H890.80 Q892.40 308.1 892.40 309.70 V345.0 Z" fill="#636467"/>
<rect x="884.35" y="323.45" width="6.4" height="7.2" rx="2.6" ry="2.6" fill="#fff"/>
<path d="M898.10 345.0 V309.70 Q898.10 308.1 899.70 308.1 H906.20 Q907.80 308.1 907.80 309.70 V345.0 Z" fill="#636467"/>
<rect x="899.75" y="323.45" width="6.4" height="7.2" rx="2.6" ry="2.6" fill="#fff"/>
<path d="M910.50 345.0 V309.70 Q910.50 308.1 912.10 308.1 H918.60 Q920.20 308.1 920.20 309.70 V345.0 Z" fill="#636467"/>
<rect x="912.15" y="323.45" width="6.4" height="7.2" rx="2.6" ry="2.6" fill="#fff"/>
<path d="M922.90 345.0 V309.70 Q922.90 308.1 924.50 308.1 H931.00 Q932.60 308.1 932.60 309.70 V345.0 Z" fill="#636467"/>
<rect x="924.55" y="323.45" width="6.4" height="7.2" rx="2.6" ry="2.6" fill="#fff"/>
<text transform="translate(642.50 361.00) scale(1.2560 1)" font-size="15.43" font-weight="500" fill="#111" stroke="#111" stroke-width="0.4" stroke-linejoin="round">防毒墙</text>
<g><text transform="translate(754.44 361.00) scale(1.2592 1)" font-size="16.67" font-weight="400" fill="#111" stroke="#111" stroke-width="0.5" stroke-linejoin="round">WAF</text><text transform="translate(800.17 361.00) scale(1.2587 1)" font-size="15.38" font-weight="500" fill="#111" stroke="#111" stroke-width="0.4" stroke-linejoin="round">墙</text></g>
<text transform="translate(884.30 366.00) scale(1.1194 1)" font-size="17.32" font-weight="400" fill="#111" stroke="#111" stroke-width="0.45" stroke-linejoin="round">IPS</text>
<g><text transform="translate(731.17 387.00) scale(0.9748 1)" font-size="16.34" font-weight="bold" fill="#111" stroke="#111" stroke-width="0.2" stroke-linejoin="round">SSL</text><text transform="translate(762.39 386.00) scale(1.2556 1)" font-size="12.08" font-weight="bold" fill="#111" stroke="#111" stroke-width="0.3" stroke-linejoin="round">卸载安全区</text></g>
</svg>
</body>
</html>
